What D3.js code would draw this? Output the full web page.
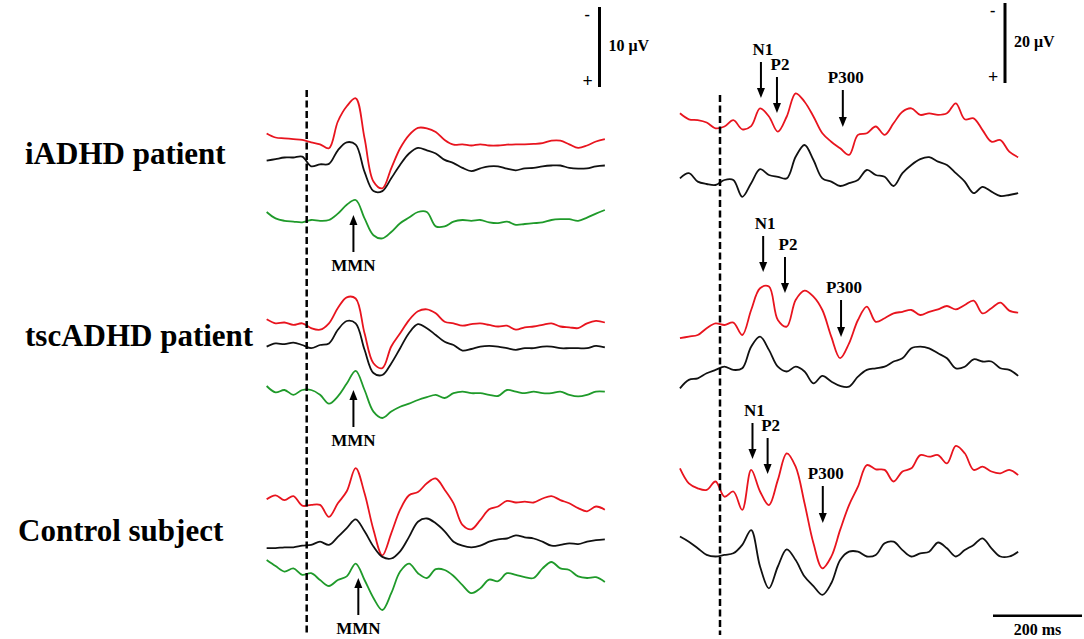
<!DOCTYPE html>
<html><head><meta charset="utf-8">
<script src="https://cdn.jsdelivr.net/npm/d3@7"></script>
<style>body{margin:0;background:#fff}svg{display:block}text{font-family:"Liberation Serif","Times New Roman",serif}</style>
</head><body>
<script>
// time points (ms), shared by every waveform
const times = [-90,-70,-50,-30,-10,10,30,50,70,90,110,130,150,170,190,210,230,250,270,290,310,330,350,370,390,410,430,450,470,490,510,530,550,570,590,610,630,650,670];
const groups = ["iADHD patient","tscADHD patient","Control subject"];

// Left panel (MMN) amplitudes in µV, negative plotted upward
const mmnDeviant_iADHD = [-0.6,-0.1,0,0.1,0.2,0.5,0.75,1.25,-2.1,-4.0,-5.0,0,5.4,6.25,3.75,1.25,-0.4,-1.3,-1.25,-0.8,0.2,0.8,0.75,0.9,0.75,0.9,0.9,0.8,0.75,0.75,0.7,0.6,0.3,0.3,0.75,1.2,0.9,0.4,0.1];
const mmnStandard_iADHD = [0.3,0.1,-0.1,-0.1,-0.2,1.0,0.75,0.7,-1.0,-2.0,-1.7,1.7,4.1,4.1,2.5,0.8,-0.6,-1.3,-1.0,-0.6,0.2,0.6,1.2,1.6,1.25,1.0,1.0,1.3,1.5,1.25,1.2,1.0,0.9,0.9,1.2,1.3,1.25,1.0,0.9];
const mmnDiff_iADHD = [-1.0,-0.2,0.1,0.2,0.3,0,0.1,0,-0.8,-1.9,-2.5,-0.2,1.9,2.3,1.5,0.4,-0.3,-1.0,-1.0,0.8,0.8,0.2,0,0.1,0,0.3,0.4,0.2,0.6,0.5,0.4,0.3,0,-0.1,-0.1,0.1,-0.3,-0.8,-1.25];

const mmnDeviant_tsc = [-0.5,0,-0.1,0.2,0,0.6,0.8,0,-1.9,-3.25,-3.1,1.25,5.0,5.6,2.9,1.25,-0.4,-1.5,-1.75,-1.25,-0.2,0,0.3,0.1,0,0.2,0.4,0.3,0.8,0.5,0.4,0.2,0,0.4,0.5,0.6,0,-0.3,-0.1];
const mmnStandard_tsc = [0.2,-0.2,-0.1,-0.3,0,0.4,0,-0.2,-1.9,-3.0,-2.7,0.6,3.5,3.75,2.3,0.4,-1.5,-2.6,-2.1,-1.25,-0.4,0,0.7,0.5,0.2,0.1,0.2,0.4,0.6,0.4,0.4,0.2,0.2,0.4,0.4,0.4,0.4,0.1,0.3];
const mmnDiff_tsc = [-0.5,0.3,0,0.6,0,0,0.6,1.7,0.8,-0.8,-2.4,0,2.7,3.5,2.7,2.1,1.7,1.25,0.9,0.6,1.0,0.4,0.2,0.4,0.4,0.6,0.75,0,0.2,0.4,0.2,0.4,0.4,0.2,0.6,0.8,0.6,0.2,0.2];

const mmnDeviant_ctrl = [-0.5,-1.0,-0.4,-0.9,0.3,0.2,0.2,1.7,0,-1.5,-4.4,-1.25,3.3,6.5,3.75,0.8,-1.0,-1.4,-2.5,-3.1,-1.7,0,2.7,3.25,2.1,0.75,0.4,-0.3,-0.1,-0.2,-0.1,-0.6,-0.9,-0.4,0,0.6,1.0,0.4,0.8];
const mmnStandard_ctrl = [0.1,0.1,0,0,-0.2,-0.3,-0.7,-0.3,-1.3,-2.4,-3.5,-2.0,-0.1,1.2,1.4,0.5,-1.3,-3.2,-3.6,-3.0,-2.0,-0.7,-0.2,0,-0.2,-0.7,-1.0,-1.1,-1.5,-1.25,-1.1,-0.7,-0.2,-0.3,-0.5,-0.4,-0.7,-0.9,-1.0];
const mmnDiff_ctrl = [-1.25,-0.5,0.2,-0.2,0.6,0.4,1.25,2.0,1.25,0.8,-0.8,1.25,3.5,5.0,2.9,0.2,-0.8,0.4,1.0,-0.1,0,0.75,1.9,2.9,2.3,1.2,1.4,0.4,0.6,0.9,1.0,-0.2,-1.0,-0.2,0,0.8,1.0,0.9,1.5];

// Right panel (P300 oddball) amplitudes in µV
const p3Target_iADHD = [-2.5,-1.0,-0.8,-0.2,1.25,0.8,-0.8,1.5,0.7,-3.75,-1.7,2.1,-1.7,-7.5,-5.4,-1.7,2.5,4.6,6.25,7.9,2.9,2.5,0.8,2.9,0,-2.9,-3.75,-2.1,-2.5,-2.1,-2.5,-5.0,-1.0,-1.25,1.7,4.6,4.2,7.1,8.5];
const p3Standard_iADHD = [-0.4,-1.7,0.4,1.0,1.25,0,0,4.2,0.8,-2.7,-1.25,-0.8,-0.4,-5.8,-8.75,-5.0,-0.4,0.4,1.5,0.8,0,-2.5,-1.25,-0.8,1.5,-1.7,-3.75,-5.2,-5.7,-4.6,-3.75,-1.7,0.4,3.3,1.7,2.9,4.0,3.75,3.3];
const p3Target_tsc = [3.3,2.9,2.5,0.8,-0.4,0,-0.6,2.5,-3.75,-9.2,-9.6,-1.25,0.4,-6.25,-8.6,-7.1,-3.75,2.9,8.3,4.6,-1.25,-4.6,-0.8,-1.7,-2.9,-3.3,-3.75,-2.5,-3.3,-3.9,-4.75,-3.9,-5.0,-6.1,-2.9,-4.2,-5.6,-3.6,-3.1];
const p3Standard_tsc = [5.0,2.9,2.5,1.25,0.4,-0.4,0.4,0,-5.4,-7.9,-4.6,-0.4,0.8,-0.4,0.8,3.75,1.9,3.3,4.4,4.6,2.1,0.4,0,-0.4,-1.7,-2.5,-5.0,-5.4,-5.0,-3.75,-2.5,0,-0.4,-2.25,-1.7,-1.7,0,0.4,1.9];
const p3Target_ctrl = [-5.0,-1.25,0,0.4,-1.7,2.1,0.8,5.4,-4.6,0.8,4.2,-2.1,-8.75,-5.4,3.75,13.75,20.0,17.1,10.4,4.2,-0.4,-5.8,-4.75,-4.6,-1.7,-4.2,-5.0,-8.3,-7.9,-8.3,-6.25,-10.6,-8.75,-4.6,-5.4,-4.2,-3.75,-4.6,-3.3];
const p3Standard_ctrl = [-4.2,-2.9,-1.25,0.4,0.8,0.4,0,-2.1,-5.8,3.3,8.75,3.3,-1.0,1.7,5.8,8.2,10.4,7.5,1.7,-0.4,-0.4,0.8,0.4,-2.5,-2.9,-0.8,0.8,0,-0.4,-2.7,-1.25,0.8,-0.8,-2.1,-3.75,-1.25,0.8,0.8,-0.4];

// component latencies (ms) marked by arrows
const mmnLatency = [105,105,116];
const n1Latency = [92,97,73];
const p2Latency = [128,146,107];
const p300Latency = [276,272,231];

// scale bar values
const leftScaleUV = 10, rightScaleUV = 20, timeScaleMs = 200;

// ---------- layout ----------
const W = 1084, H = 639;
const RED = "#e8141e", BLACK = "#111111", GREEN = "#1f9a2a";
const svg = d3.select("body").append("svg").attr("width", W).attr("height", H)
  .attr("font-family", "Liberation Serif, Times New Roman, serif");

const xL = d3.scaleLinear().domain([0, 200]).range([306.7, 395.7]);
const xR = d3.scaleLinear().domain([0, 200]).range([720, 809]);

const leftRows = [
  {dev: mmnDeviant_iADHD, std: mmnStandard_iADHD, diff: mmnDiff_iADHD, b: [138.3, 158.3, 220]},
  {dev: mmnDeviant_tsc, std: mmnStandard_tsc, diff: mmnDiff_tsc, b: [323.3, 345, 390]},
  {dev: mmnDeviant_ctrl, std: mmnStandard_ctrl, diff: mmnDiff_ctrl, b: [503.3, 547.3, 570]}
];
const rightRows = [
  {tgt: p3Target_iADHD, std: p3Standard_iADHD, b: [123.3, 180]},
  {tgt: p3Target_tsc, std: p3Standard_tsc, b: [325, 368.3]},
  {tgt: p3Target_ctrl, std: p3Standard_ctrl, b: [488.3, 553.3]}
];

function wave(x, base, uv, values, color) {
  const y = d3.scaleLinear().domain([0, uv]).range([base, base + 80]);
  const line = d3.line().x((d, i) => x(times[i])).y(d => y(d)).curve(d3.curveCatmullRom.alpha(0.5));
  svg.append("path").datum(values).attr("d", line)
    .attr("fill", "none").attr("stroke", color).attr("stroke-width", 1.8)
    .attr("stroke-linejoin", "round");
}

leftRows.forEach(r => {
  wave(xL, r.b[0], leftScaleUV, r.dev, RED);
  wave(xL, r.b[1], leftScaleUV, r.std, BLACK);
  wave(xL, r.b[2], leftScaleUV, r.diff, GREEN);
});
rightRows.forEach(r => {
  wave(xR, r.b[0], rightScaleUV, r.tgt, RED);
  wave(xR, r.b[1], rightScaleUV, r.std, BLACK);
});

// stimulus onset dashed lines
svg.append("line").attr("x1", xL(0)).attr("x2", xL(0)).attr("y1", 90).attr("y2", 635)
  .attr("stroke", "#000").attr("stroke-width", 2.5).attr("stroke-dasharray", "7,3.5");
svg.append("line").attr("x1", xR(0)).attr("x2", xR(0)).attr("y1", 95).attr("y2", 635)
  .attr("stroke", "#000").attr("stroke-width", 2.5).attr("stroke-dasharray", "7,3.5");

// group labels
const labelPos = [[25, 164], [25, 346], [18, 541]];
groups.forEach((g, i) => {
  svg.append("text").attr("x", labelPos[i][0]).attr("y", labelPos[i][1])
    .attr("font-size", 31).attr("font-weight", "bold").attr("fill", "#000").text(g);
});

// arrows
function arrow(x, yTop, yTip) {
  svg.append("line").attr("x1", x).attr("x2", x).attr("y1", yTop).attr("y2", yTip - 8)
    .attr("stroke", "#000").attr("stroke-width", 2);
  svg.append("path").attr("d", `M${x - 4},${yTip - 10} L${x + 4},${yTip - 10} L${x},${yTip} Z`).attr("fill", "#000");
}
function arrowUp(x, yTip, yBottom) {
  svg.append("line").attr("x1", x).attr("x2", x).attr("y1", yTip + 8).attr("y2", yBottom)
    .attr("stroke", "#000").attr("stroke-width", 2);
  svg.append("path").attr("d", `M${x - 4},${yTip + 10} L${x + 4},${yTip + 10} L${x},${yTip} Z`).attr("fill", "#000");
}
function label(x, y, t, size) {
  svg.append("text").attr("x", x).attr("y", y).attr("text-anchor", "middle")
    .attr("font-size", size).attr("font-weight", "bold").attr("fill", "#000").text(t);
}

// MMN arrows (pointing up)
const mmnTip = [215, 390, 578];
mmnLatency.forEach((t, i) => {
  const x = xL(t);
  arrowUp(x, mmnTip[i], mmnTip[i] + 37);
  label(x, mmnTip[i] + 56, "MMN", 17);
});

// N1 / P2 / P300 arrows (pointing down)
const n1Tip = [98, 272, 459], p2Tip = [113, 293, 474], p3Tip = [127, 337, 523];
[0, 1, 2].forEach(i => {
  const xn = xR(n1Latency[i]), xp = xR(p2Latency[i]), x3 = xR(p300Latency[i]);
  arrow(xn, n1Tip[i] - 36, n1Tip[i]);  label(xn + 2, n1Tip[i] - 43, "N1", 17);
  arrow(xp, p2Tip[i] - 36, p2Tip[i]);  label(xp + 3, p2Tip[i] - 43, "P2", 17);
  arrow(x3, p3Tip[i] - 37, p3Tip[i]);  label(x3 + 3, p3Tip[i] - 44, "P300", 17);
});

// amplitude scale bars
function vbar(x, y0, uv, pxPerUV, txt) {
  svg.append("line").attr("x1", x).attr("x2", x).attr("y1", y0).attr("y2", y0 + uv * pxPerUV)
    .attr("stroke", "#000").attr("stroke-width", 3);
  svg.append("text").attr("x", x - 15).attr("y", y0 + 13).attr("font-size", 16).attr("font-weight", "bold").text("-");
  svg.append("text").attr("x", x - 17).attr("y", y0 + 80).attr("font-size", 18).attr("font-weight", "bold").text("+");
  svg.append("text").attr("x", x + 9).attr("y", y0 + 44).attr("font-size", 16).attr("font-weight", "bold").text(txt);
}
vbar(599.5, 7, leftScaleUV, 8, "10 μV");
vbar(1005, 3, rightScaleUV, 4, "20 μV");

// time scale bar
const tb0 = 993;
svg.append("line").attr("x1", tb0).attr("x2", tb0 + (xR(timeScaleMs) - xR(0))).attr("y1", 615.7).attr("y2", 615.7)
  .attr("stroke", "#000").attr("stroke-width", 2.5);
svg.append("text").attr("x", tb0 + (xR(timeScaleMs) - xR(0)) / 2).attr("y", 635).attr("text-anchor", "middle")
  .attr("font-size", 16).attr("font-weight", "bold").text("200 ms");
</script>
</body></html>
